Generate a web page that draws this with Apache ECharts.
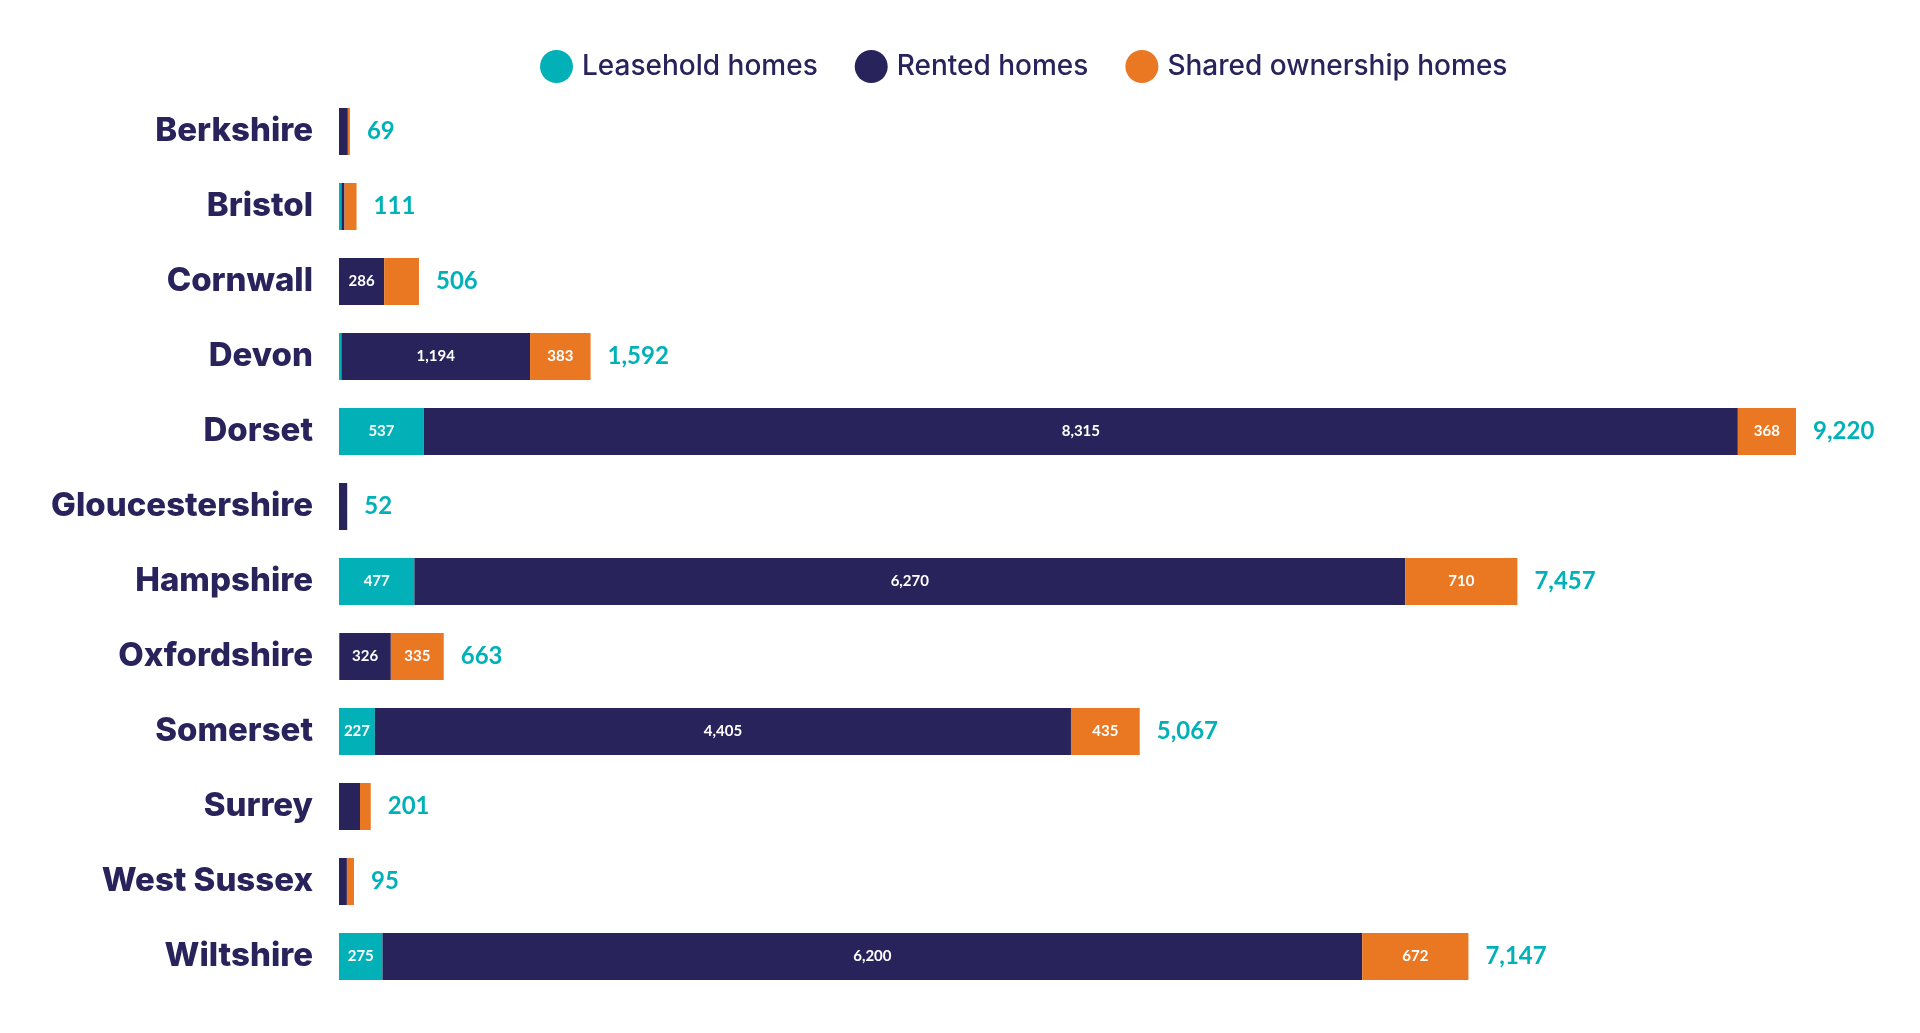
<!DOCTYPE html>
<html>
<head>
<meta charset="utf-8">
<script src="https://cdn.jsdelivr.net/npm/echarts@6/dist/echarts.min.js"></script>
<style>
html,body{margin:0;padding:0;background:#fff;}
#chart{width:1920px;height:1033px;}
</style>
</head>
<body>
<div id="chart"></div>
<script>
const categories = ['Berkshire','Bristol','Cornwall','Devon','Dorset','Gloucestershire','Hampshire','Oxfordshire','Somerset','Surrey','West Sussex','Wiltshire'];
const leasehold = [0, 15, 0, 15, 537, 0, 477, 2, 227, 0, 0, 275];
const rented = [56, 20, 286, 1194, 8315, 52, 6270, 326, 4405, 133, 50, 6200];
const shared = [13, 76, 220, 383, 368, 0, 710, 335, 435, 68, 45, 672];
const totals = [69, 111, 506, 1592, 9220, 52, 7457, 663, 5067, 201, 95, 7147];
const seriesNames = ['Leasehold homes', 'Rented homes', 'Shared ownership homes'];
const colors = ['#02b1b8', '#29235c', '#ea7823'];

const FONT = 'Lato, "Noto Sans", sans-serif';
const WIDE = 'Inter, "Noto Sans", sans-serif';
const NAVY = '#29235c';
const fmt = v => Number(v).toLocaleString('en-US');

const inside = {
  show: true,
  position: 'inside',
  color: '#fff',
  fontFamily: FONT,
  fontWeight: 'bold',
  fontSize: 15,
  formatter: p => (p.value >= 225 ? fmt(p.value) : '')
};

const chart = echarts.init(document.getElementById('chart'));
chart.setOption({
  animation: false,
  backgroundColor: '#fff',
  legend: {
    data: seriesNames,
    top: 45,
    left: 535,
    icon: 'circle',
    itemWidth: 33,
    itemHeight: 33,
    itemGap: 37,
    textStyle: { color: NAVY, fontFamily: WIDE, fontSize: 28, fontWeight: 500, padding: [0, 0, 0, 4] }
  },
  grid: { left: 339, right: 124, top: 94, bottom: 39, containLabel: false },
  xAxis: {
    type: 'value', min: 0, max: 9220,
    show: false
  },
  yAxis: {
    type: 'category',
    data: categories,
    inverse: true,
    axisLine: { show: false },
    axisTick: { show: false },
    axisLabel: { color: NAVY, fontFamily: WIDE, fontWeight: 800, fontSize: 33, margin: 26, padding: [8, 0, 0, 0] }
  },
  series: [
    { name: seriesNames[0], type: 'bar', stack: 't', barWidth: 47, data: leasehold, itemStyle: { color: colors[0] }, label: inside },
    { name: seriesNames[1], type: 'bar', stack: 't', barWidth: 47, data: rented, itemStyle: { color: colors[1] }, label: inside },
    { name: seriesNames[2], type: 'bar', stack: 't', barWidth: 47, data: shared, itemStyle: { color: colors[2] }, label: inside },
    {
      name: 'Total', type: 'bar', stack: 't', barWidth: 47,
      data: totals.map(() => 0),
      itemStyle: { color: 'transparent' },
      label: {
        show: true, position: 'right', distance: 17,
        color: colors[0], fontFamily: FONT, fontWeight: 'bold', fontSize: 24,
        formatter: p => fmt(totals[p.dataIndex])
      }
    }
  ]
});
</script>
</body>
</html>
